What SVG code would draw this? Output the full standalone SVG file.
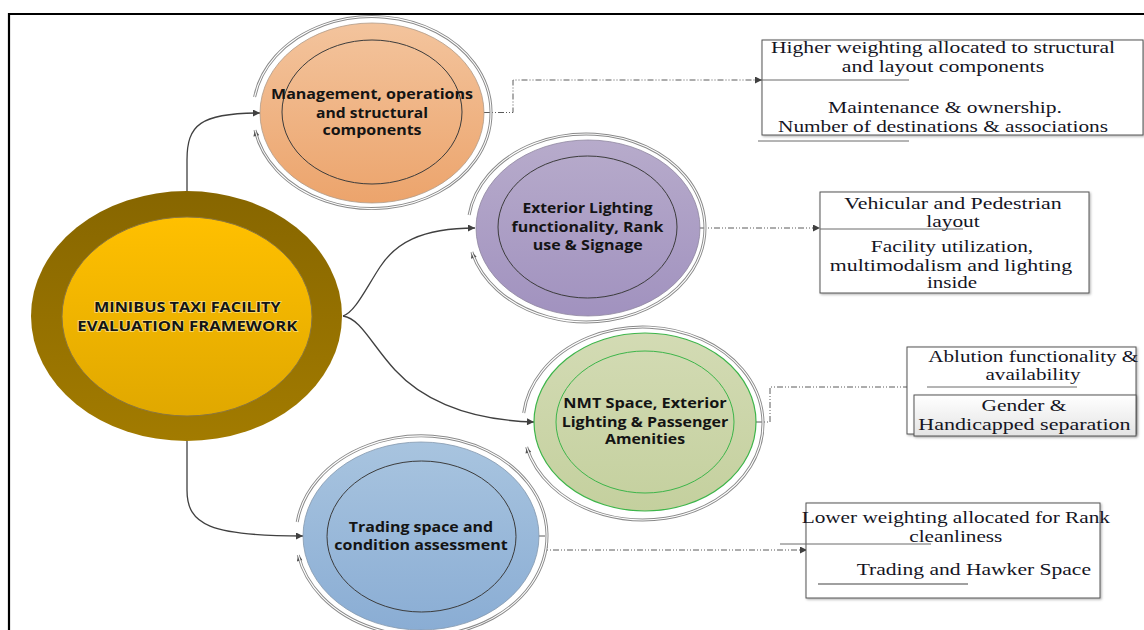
<svg xmlns="http://www.w3.org/2000/svg" width="1144" height="630" viewBox="0 0 1144 630">
  <defs>
    <style>
      .lbl { font-family: "Open Sans", "Liberation Sans", sans-serif; font-weight: bold; font-size: 14px; fill: #141414; text-anchor: middle; }
      .main { font-size: 13.5px; paint-order: stroke; stroke: #fff1b8; stroke-width: 1.4; stroke-opacity: 0.7; }
      .note { font-family: "Liberation Serif", "Times New Roman", serif; font-size: 16px; fill: #15151f; text-anchor: middle; }
      .box { fill: #ffffff; stroke: #555; stroke-width: 1; filter: url(#shadow); }
      .link { fill: none; stroke: #404040; stroke-width: 1.3; marker-end: url(#arrow); }
      .dash { fill: none; stroke: #5a5a5a; stroke-width: 1; stroke-dasharray: 6 2 1 2 1 2; marker-end: url(#arrow); }
      .ring { fill: none; stroke: #8a8a8a; stroke-width: 3; marker-end: url(#ringArrow); }
      .ringIn { fill: none; stroke: #ffffff; stroke-width: 1.1; }
      .inner { fill: none; stroke: #3c3c3c; stroke-width: 1; }
      .rule { stroke: #6a6a6a; stroke-width: 1; }
    </style>
    <marker id="arrow" viewBox="0 0 10 10" refX="10" refY="5" markerWidth="9" markerHeight="7" markerUnits="userSpaceOnUse" orient="auto">
      <path d="M0,0 L10,5 L0,10 z" fill="#404040"/>
    </marker>
    <marker id="ringArrow" viewBox="0 0 10 10" refX="10" refY="5" markerWidth="7" markerHeight="6" markerUnits="userSpaceOnUse" orient="auto">
      <path d="M0,0 L10,5 L0,10 z" fill="#555"/>
    </marker>
    <filter id="shadow" x="-5%" y="-5%" width="110%" height="115%">
      <feDropShadow dx="1.2" dy="1.2" stdDeviation="0.8" flood-color="#000" flood-opacity="0.3"/>
    </filter>
    <linearGradient id="gOrange" x1="0" y1="0" x2="0" y2="1">
      <stop offset="0" stop-color="#F3C49D"/>
      <stop offset="1" stop-color="#ECA46C"/>
    </linearGradient>
    <linearGradient id="gPurple" x1="0" y1="0" x2="0" y2="1">
      <stop offset="0" stop-color="#B7ABCB"/>
      <stop offset="1" stop-color="#A192BF"/>
    </linearGradient>
    <linearGradient id="gGreen" x1="0" y1="0" x2="0" y2="1">
      <stop offset="0" stop-color="#D3DBB4"/>
      <stop offset="1" stop-color="#C4D09E"/>
    </linearGradient>
    <linearGradient id="gBlue" x1="0" y1="0" x2="0" y2="1">
      <stop offset="0" stop-color="#A8C4DF"/>
      <stop offset="1" stop-color="#8AADD4"/>
    </linearGradient>
    <linearGradient id="gOlive" x1="0" y1="0" x2="0" y2="1">
      <stop offset="0" stop-color="#876600"/>
      <stop offset="1" stop-color="#A27B00"/>
    </linearGradient>
    <linearGradient id="gGold" x1="0" y1="0" x2="0" y2="1">
      <stop offset="0" stop-color="#FFC000"/>
      <stop offset="1" stop-color="#E0A800"/>
    </linearGradient>
    <linearGradient id="gGrey" x1="0" y1="0" x2="0" y2="1">
      <stop offset="0" stop-color="#ffffff"/>
      <stop offset="1" stop-color="#e4e4e4"/>
    </linearGradient>
  </defs>

  <rect width="1144" height="630" fill="#ffffff"/>

  <!-- page frame -->
  <path d="M9,630 V14 H1144" fill="none" stroke="#000" stroke-width="2.2"/>

  <!-- connectors -->
  <g id="connectors">
    <path class="link" d="M187,191 V160 C187,125 200,113 260,113"/>
    <path class="link" d="M343,316 C355,312 365,290 380,267 S420,228 475,228"/>
    <path class="link" d="M343,316 C360,318 372,345 395,370 S460,420 534,422"/>
    <path class="link" d="M187,441 V490 C187,525 210,536 303,536"/>

    <path class="dash" d="M484,112.5 H513 V80 H762"/>
    <path class="dash" d="M700,228 H820"/>
    <path class="dash" d="M756,422 H770 V387 H927"/>
    <path class="dash" d="M539,536 H547 V550 H807"/>
  </g>

  <!-- centre node -->
  <g id="framework">
    <ellipse cx="186.5" cy="316" rx="155.5" ry="125" fill="url(#gOlive)"/>
    <ellipse cx="187" cy="316.5" rx="125" ry="99.5" fill="url(#gGold)" stroke="#8a7640" stroke-width="1"/>
    <text class="lbl main" x="187.3" y="312.3" textLength="186.7" lengthAdjust="spacingAndGlyphs">MINIBUS TAXI FACILITY</text>
    <text class="lbl main" x="187.3" y="330.7" textLength="220" lengthAdjust="spacingAndGlyphs">EVALUATION FRAMEWORK</text>
  </g>

  <!-- management node -->
  <g id="management">
    <path class="ring" d="M254.6,97 A119,96 0 1 1 255,130"/>
    <path class="ringIn" d="M254.6,97 A119,96 0 1 1 255,130"/>
    <ellipse cx="372" cy="113" rx="112" ry="90" fill="url(#gOrange)" stroke="#b09a88" stroke-width="0.8"/>
    <ellipse class="inner" cx="372" cy="112" rx="90" ry="72"/>
    <text class="lbl" x="372" y="99" textLength="202" lengthAdjust="spacingAndGlyphs">Management, operations</text>
    <text class="lbl" x="372" y="117.5" textLength="112" lengthAdjust="spacingAndGlyphs">and structural</text>
    <text class="lbl" x="372" y="135" textLength="99" lengthAdjust="spacingAndGlyphs">components</text>
  </g>

  <!-- lighting node -->
  <g id="lighting">
    <path class="ring" d="M469.1,215 A118.5,94 0 1 1 471.9,252"/>
    <path class="ringIn" d="M469.1,215 A118.5,94 0 1 1 471.9,252"/>
    <ellipse cx="588" cy="228" rx="112" ry="88" fill="url(#gPurple)" stroke="#8f86a0" stroke-width="0.8"/>
    <ellipse class="inner" cx="587.5" cy="227" rx="89.5" ry="71"/>
    <text class="lbl" x="587.5" y="213.3" textLength="130" lengthAdjust="spacingAndGlyphs">Exterior Lighting</text>
    <text class="lbl" x="587.5" y="231.7" textLength="152" lengthAdjust="spacingAndGlyphs">functionality, Rank</text>
    <text class="lbl" x="587.7" y="250" textLength="110" lengthAdjust="spacingAndGlyphs">use &amp; Signage</text>
  </g>

  <!-- amenities node -->
  <g id="amenities">
    <path class="ring" d="M523.7,413 A120,96.5 0 1 1 526.6,447"/>
    <path class="ringIn" d="M523.7,413 A120,96.5 0 1 1 526.6,447"/>
    <ellipse cx="645" cy="422" rx="111" ry="89" fill="url(#gGreen)" stroke="#3DB54A" stroke-width="1.2"/>
    <ellipse cx="645" cy="422" rx="89" ry="71" fill="none" stroke="#3DB54A" stroke-width="1"/>
    <text class="lbl" x="645" y="408.3" textLength="163.3" lengthAdjust="spacingAndGlyphs">NMT Space, Exterior</text>
    <text class="lbl" x="645" y="426.7" textLength="166.7" lengthAdjust="spacingAndGlyphs">Lighting &amp; Passenger</text>
    <text class="lbl" x="645" y="444.3" textLength="80" lengthAdjust="spacingAndGlyphs">Amenities</text>
  </g>

  <!-- trading node -->
  <g id="trading">
    <path class="ring" d="M297.2,522 A125.5,100 0 1 1 298.3,555"/>
    <path class="ringIn" d="M297.2,522 A125.5,100 0 1 1 298.3,555"/>
    <ellipse cx="421" cy="536" rx="118" ry="94" fill="url(#gBlue)" stroke="#8498ad" stroke-width="0.8"/>
    <ellipse class="inner" cx="421.5" cy="536.5" rx="94.5" ry="75.5"/>
    <text class="lbl" x="421" y="531.7" textLength="144.3" lengthAdjust="spacingAndGlyphs">Trading space and</text>
    <text class="lbl" x="421" y="550" textLength="173.3" lengthAdjust="spacingAndGlyphs">condition assessment</text>
  </g>

  <!-- note boxes -->
  <g id="note-structural">
    <rect class="box" x="762" y="40" width="381" height="95"/>
    <line class="rule" x1="762" y1="80" x2="909" y2="80"/>
    <line class="rule" x1="758" y1="141" x2="909" y2="141"/>
    <text class="note" x="943" y="53.3" textLength="344" lengthAdjust="spacingAndGlyphs">Higher weighting allocated to structural</text>
    <text class="note" x="943" y="71.7" textLength="202.3" lengthAdjust="spacingAndGlyphs">and layout components</text>
    <text class="note" x="945" y="113.3" textLength="234" lengthAdjust="spacingAndGlyphs">Maintenance &amp; ownership.</text>
    <text class="note" x="943" y="131.7" textLength="330" lengthAdjust="spacingAndGlyphs">Number of destinations &amp; associations</text>
  </g>

  <g id="note-layout">
    <rect class="box" x="820" y="192" width="269" height="101"/>
    <line class="rule" x1="820" y1="229" x2="963" y2="229"/>
    <text class="note" x="953" y="209.3" textLength="217.3" lengthAdjust="spacingAndGlyphs">Vehicular and Pedestrian</text>
    <text class="note" x="953" y="227.3" textLength="53.3" lengthAdjust="spacingAndGlyphs">layout</text>
    <text class="note" x="952" y="252.3" textLength="162.3" lengthAdjust="spacingAndGlyphs">Facility utilization,</text>
    <text class="note" x="951" y="270.7" textLength="242.3" lengthAdjust="spacingAndGlyphs">multimodalism and lighting</text>
    <text class="note" x="952" y="288.3" textLength="50" lengthAdjust="spacingAndGlyphs">inside</text>
  </g>

  <g id="note-ablution">
    <rect class="box" x="907" y="347" width="229" height="87"/>
    <line class="rule" x1="927" y1="387" x2="1077" y2="387"/>
    <text class="note" x="1033.3" y="362.3" textLength="210" lengthAdjust="spacingAndGlyphs">Ablution functionality &amp;</text>
    <text class="note" x="1033" y="380" textLength="95" lengthAdjust="spacingAndGlyphs">availability</text>
  </g>

  <g id="note-separation">
    <rect x="914" y="395" width="222" height="41" fill="url(#gGrey)" stroke="#555" stroke-width="1" filter="url(#shadow)"/>
    <text class="note" x="1024" y="411" textLength="85" lengthAdjust="spacingAndGlyphs">Gender &amp;</text>
    <text class="note" x="1024.5" y="430" textLength="212.3" lengthAdjust="spacingAndGlyphs">Handicapped separation</text>
  </g>

  <g id="note-trading">
    <rect class="box" x="806" y="503" width="294" height="95"/>
    <line class="rule" x1="780" y1="544" x2="931" y2="544"/>
    <line x1="818" y1="584" x2="968" y2="584" stroke="#a0a0a0" stroke-width="2"/>
    <text class="note" x="955.8" y="523.3" textLength="308.3" lengthAdjust="spacingAndGlyphs">Lower weighting allocated for Rank</text>
    <text class="note" x="955.8" y="541.7" textLength="93" lengthAdjust="spacingAndGlyphs">cleanliness</text>
    <text class="note" x="973.8" y="575" textLength="234.3" lengthAdjust="spacingAndGlyphs">Trading and Hawker Space</text>
  </g>
</svg>
